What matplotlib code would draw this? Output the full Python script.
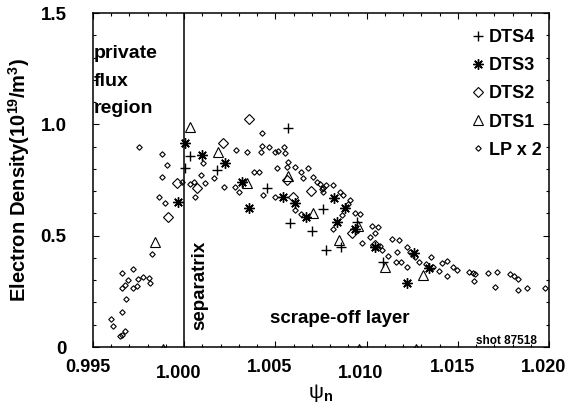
import numpy as np
import matplotlib
matplotlib.use("Agg")
import matplotlib.pyplot as plt
from matplotlib.transforms import ScaledTranslation

plt.rcParams['font.family'] = ['Liberation Sans', 'DejaVu Sans']
plt.rcParams['font.weight'] = 'bold'
plt.rcParams['axes.labelweight'] = 'bold'
plt.rcParams['mathtext.fontset'] = 'custom'
plt.rcParams['mathtext.bf'] = 'Liberation Sans:bold'
plt.rcParams['mathtext.rm'] = 'Liberation Sans:bold'
plt.rcParams['mathtext.default'] = 'bf'

# DTS4 (+)
dts4_x = [1.00004, 1.00032, 1.00181, 1.00452, 1.00571, 1.00580, 1.00699, 1.00763,
          1.00777, 1.00858, 1.00947, 1.01091]
dts4_y = [0.803, 0.858, 0.795, 0.713, 0.982, 0.558, 0.521, 0.618,
          0.436, 0.449, 0.563, 0.380]

# DTS3 (asterisk)
dts3_x = [0.99968, 1.00004, 1.00096, 1.00224, 1.00315, 1.00357, 1.00540, 1.00607,
          1.00668, 1.00821, 1.00882, 1.00836, 1.00936, 1.01046, 1.01260, 1.01344, 1.01220]
dts3_y = [0.652, 0.915, 0.862, 0.825, 0.742, 0.623, 0.672, 0.648,
          0.585, 0.668, 0.623, 0.563, 0.528, 0.450, 0.421, 0.353, 0.289]

# DTS2 (large diamond)
dts2_x = [0.99909, 0.99959, 1.00069, 1.00214, 1.00357, 1.00562, 1.00598, 1.00695,
          1.00918, 1.01046]
dts2_y = [0.582, 0.735, 0.713, 0.915, 1.022, 0.750, 0.672, 0.702,
          0.510, 0.460]

# DTS1 (triangle), the last three sit on the axis
dts1_x = [0.99840, 1.00032, 1.00187, 1.00343, 1.00571, 1.00708, 1.00850, 1.00955,
          1.01100, 1.01307, 0.99885, 1.00960, 1.01271]
dts1_y = [0.473, 0.989, 0.877, 0.738, 0.768, 0.600, 0.480, 0.543,
          0.361, 0.323, -0.008, -0.008, -0.008]

# Langmuir probe x 2 (small diamond)
lp_x = [0.99599, 0.99611, 0.99648, 0.99657, 0.99675, 0.99657, 0.99679, 0.99657,
        0.99657, 0.99675, 0.99694, 0.99718, 0.99721, 0.99740, 0.99745, 0.99776,
        0.99809, 0.99812, 0.99822, 0.99862, 0.99895, 0.99752, 0.99877, 0.99904,
        0.99877, 0.99986,
        1.00054, 1.00032, 1.00059, 1.00090, 1.00114, 1.00101, 1.00166, 1.00220,
        1.00284, 1.00346, 1.00425, 1.00425, 1.00419, 1.00467, 1.00500, 1.00514,
        1.00547, 1.00553, 1.00571, 1.00562, 1.00607, 1.00507, 1.00638, 1.00653,
        1.00704, 1.00726, 1.00744, 1.00776, 1.00759, 1.00383, 1.00412, 1.00278,
        1.00302, 1.00434, 1.00498, 1.00607, 1.00638, 1.00679, 1.00816,
        1.00754, 1.00763, 1.00854, 1.00872, 1.00909, 1.00900, 1.00814, 1.00863,
        1.00936, 1.00964, 1.00973, 1.01028, 1.01064, 1.01046, 1.01019, 1.01073,
        1.01083, 1.01137, 1.01177, 1.01119, 1.01165, 1.01161, 1.01187, 1.01223,
        1.01238, 1.01223, 1.01265, 1.01289, 1.01325, 1.01351, 1.01366, 1.01399,
        1.01412, 1.01442, 1.01442, 1.01472, 1.01493, 1.01563, 1.01585, 1.01594,
        1.01590, 1.01667, 1.01713, 1.01704, 1.01786, 1.01808, 1.01832, 1.01832,
        1.01878, 1.01978]
lp_y = [0.124, 0.094, 0.049, 0.054, 0.073, 0.159, 0.214, 0.264,
        0.331, 0.279, 0.301, 0.349, 0.264, 0.274, 0.304, 0.313,
        0.308, 0.286, 0.418, 0.675, 0.645, 0.899, 0.867, 0.817,
        0.765, 0.742,
        0.742, 0.732, 0.672, 0.772, 0.738, 0.825, 0.760, 0.720,
        0.885, 0.877, 0.962, 0.903, 0.877, 0.897, 0.877, 0.882,
        0.897, 0.870, 0.832, 0.810, 0.810, 0.803, 0.787, 0.757,
        0.762, 0.742, 0.732, 0.728, 0.713, 0.787, 0.787, 0.717,
        0.697, 0.683, 0.672, 0.615, 0.597, 0.803, 0.727,
        0.708, 0.697, 0.697, 0.683, 0.660, 0.642, 0.528, 0.593,
        0.600, 0.597, 0.466, 0.543, 0.538, 0.510, 0.493, 0.454,
        0.436, 0.484, 0.481, 0.409, 0.428, 0.383, 0.383, 0.450,
        0.428, 0.358, 0.405, 0.383, 0.373, 0.405, 0.358, 0.343,
        0.379, 0.386, 0.319, 0.358, 0.346, 0.338, 0.334, 0.328,
        0.296, 0.331, 0.338, 0.268, 0.328, 0.319, 0.304, 0.256,
        0.264, 0.264]

x_ticks = [0.995, 1.000, 1.005, 1.010, 1.015, 1.020]
y_ticks = [0, 0.5, 1.0, 1.5]
y_ticklabels = ['0', '0.5', '1.0', '1.5']

fig = plt.figure(figsize=(5.68, 4.04), dpi=100)
ax = fig.add_axes([93/568, 57/404, 456/568, 334/404])

ax.plot(lp_x, lp_y, 'D', ms=2.8, mfc='none', mec='black', mew=0.8, ls='none', label='LP x 2')
ax.plot(dts4_x, dts4_y, '+', ms=7.5, mec='black', mew=1.0, ls='none', label='DTS4')
ax.plot(dts3_x, dts3_y, marker=(8, 2, 0), ms=7.5, mec='black', mew=1.0, ls='none', label='DTS3')
ax.plot(dts2_x, dts2_y, 'D', ms=5.2, mfc='none', mec='black', mew=0.8, ls='none', label='DTS2')
ax.plot(dts1_x, dts1_y, '^', ms=7.5, mfc='none', mec='black', mew=0.8, ls='none', label='DTS1')

ax.axvline(1.000, color='black', lw=1.1)

ax.set_xlim(0.995, 1.020)
ax.set_ylim(0, 1.5)
ax.set_xticks(x_ticks)
ax.set_xticklabels(['%.3f' % v for v in x_ticks])
ax.set_xticks(np.arange(0.995, 1.0205, 0.001), minor=True)
ax.set_yticks(y_ticks)
ax.set_yticklabels(y_ticklabels)
ax.set_yticks(np.arange(0, 1.501, 0.1), minor=True)
ax.tick_params(which='both', direction='in', top=True, right=True, width=0.8)
ax.tick_params(which='major', length=4)
ax.tick_params(which='minor', length=2.2)
ax.tick_params(axis='x', which='major', pad=9, labelsize=13)
ax.tick_params(axis='y', which='major', pad=19, labelsize=13.5)
for s in ax.spines.values():
    s.set_linewidth(1.1)

ax.set_ylabel('Electron Density(10$^{19}$/m$^3$)', fontsize=14.5, labelpad=6)
ax.set_xlabel('ψ$_{n}$', fontsize=15, fontweight='normal', labelpad=0)

ax.text(0.99502, 1.300, 'private', fontsize=14, ha='left', va='baseline')
ax.text(0.99502, 1.172, 'flux', fontsize=14, ha='left', va='baseline')
ax.text(0.99502, 1.050, 'region', fontsize=14, ha='left', va='baseline')
ax.text(1.00087, 0.076, 'separatrix', fontsize=13.5, rotation=90, ha='center', va='bottom')
ax.text(1.00854, 0.108, 'scrape-off layer', fontsize=13.5, ha='center', va='baseline')
ax.text(0.9737, 0.01, 'shot 87518', fontsize=8.5, ha='right', va='baseline', transform=ax.transAxes)

h, l = ax.get_legend_handles_labels()
order = [1, 2, 3, 4, 0]
ax.legend([h[i] for i in order], [l[i] for i in order], loc='upper right',
          bbox_to_anchor=((542-93)/456, (347-29)/334), borderaxespad=0, borderpad=0,
          frameon=False, fontsize=13, handlelength=0.6, handletextpad=0.3,
          labelspacing=0.62)

fig.canvas.draw()
for lbl in ax.get_xticklabels():
    dy = -4 if lbl.get_text() in ('1.000', '1.010') else 0
    lbl.set_transform(lbl.get_transform() + ScaledTranslation(-4/72, dy/72, fig.dpi_scale_trans))

fig.savefig('out.png', dpi=100)
